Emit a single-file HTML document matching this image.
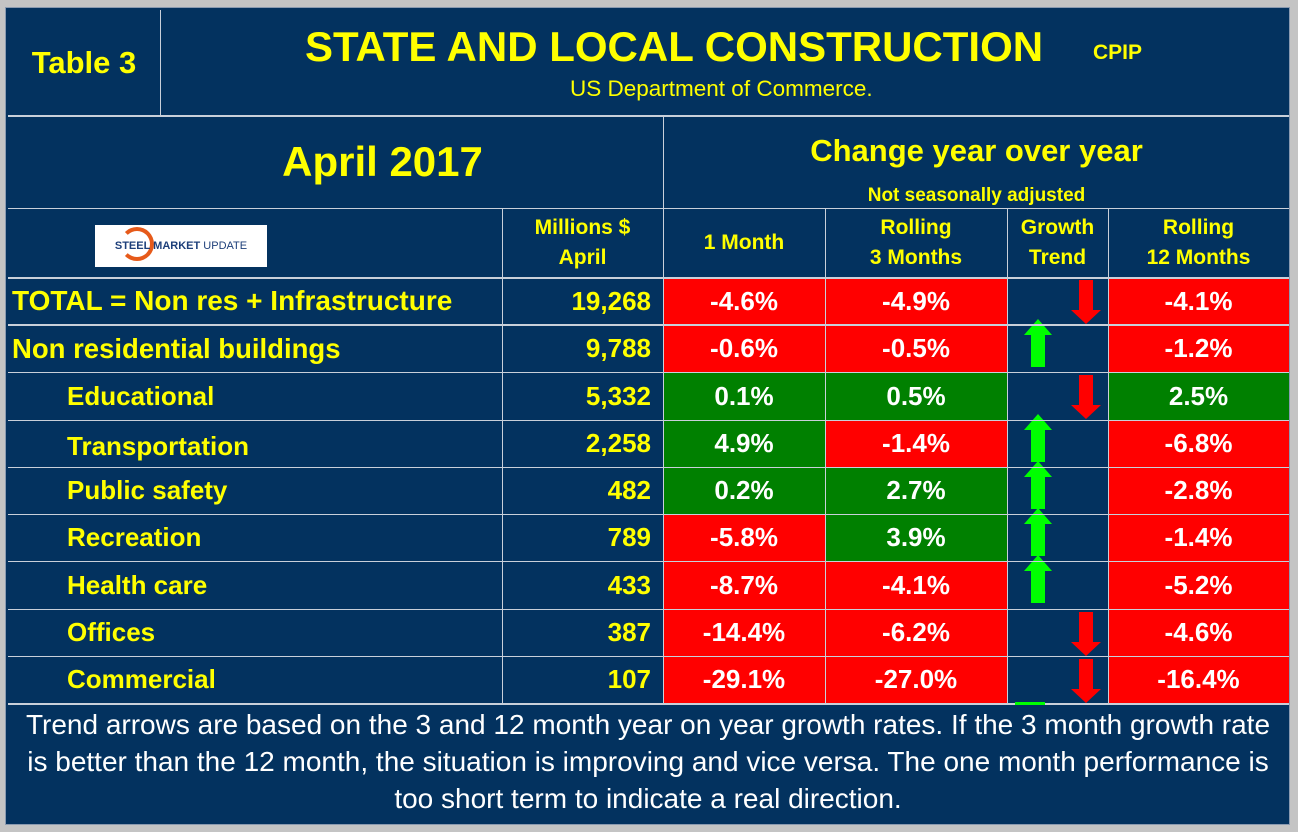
<!DOCTYPE html>
<html><head><meta charset="utf-8">
<style>
body{margin:0;width:1298px;height:832px;background:#c4c4c4;font-family:"Liberation Sans",Arial,sans-serif;overflow:hidden;position:relative}
.p{position:absolute;background:#03325f;left:6px;top:8px;width:1283px;height:816px;outline:1px solid #8a9ab0}
.a{position:absolute;box-sizing:border-box}
.ln{position:absolute;background:#c9d0da}
.y{color:#ffff00;font-weight:bold}
.w{color:#fff;font-weight:bold}
.c{display:flex;align-items:center;justify-content:center;text-align:center}
.fl{display:block;white-space:nowrap;text-align:center}
</style></head><body>
<div class="p"></div>
<div class="a y c" style="left:8px;top:10px;width:152px;height:105px;font-size:31px">Table 3</div>
<div class="a y" style="left:305px;top:23px;font-size:42px;white-space:nowrap">STATE AND LOCAL CONSTRUCTION</div>
<div class="a y" style="left:1093px;top:41px;font-size:21px">CPIP</div>
<div class="a" style="left:570px;top:76px;font-size:22.5px;color:#ffff00">US Department of Commerce.</div>
<div class="a y c" style="left:55px;top:116px;width:655px;height:92px;font-size:42px">April 2017</div>
<div class="a y c" style="left:663px;top:130px;width:627px;height:42px;font-size:31px">Change year over year</div>
<div class="a y c" style="left:663px;top:184px;width:627px;height:24px;font-size:19px">Not seasonally adjusted</div>
<div class="a c" style="left:95px;top:225px;width:172px;height:42px;background:#fff;font-size:11px;font-weight:bold;color:#1d3f7a;white-space:nowrap"><span style="position:absolute;left:25px;top:2px;width:34px;height:34px;border-radius:50%;border:4px solid #e65a1a;border-left-color:transparent;box-sizing:border-box"></span><span style="position:relative">STEEL MARKET <span style="font-weight:normal">UPDATE</span></span></div>
<div id="hdr"></div>
<div id="rows"></div>
<div class="a" style="left:8px;top:705px;width:1280px;height:115px;color:#fff;font-size:28px;line-height:37px;padding-top:1px"><span class="fl">Trend arrows are based on the 3 and 12 month year on year growth rates. If the 3 month growth rate</span><span class="fl">is better than the 12 month, the situation is improving and vice versa. The one month performance is</span><span class="fl">too short term to indicate a real direction.</span></div>
<div class="a" style="left:1015px;top:702px;width:30px;height:3px;background:#00ff00"></div>
<script>
const labels=["TOTAL = Non res + Infrastructure","Non residential buildings","Educational","Transportation","Public safety","Recreation","Health care","Offices","Commercial"];
const indent=[0,0,1,1,1,1,1,1,1];
const millions=["19,268","9,788","5,332","2,258","482","789","433","387","107"];
const m1=[-4.6,-0.6,0.1,4.9,0.2,-5.8,-8.7,-14.4,-29.1];
const m3=[-4.9,-0.5,0.5,-1.4,2.7,3.9,-4.1,-6.2,-27.0];
const m12=[-4.1,-1.2,2.5,-6.8,-2.8,-1.4,-5.2,-4.6,-16.4];
const cols=[8,502,663,825,1007,1108,1289];
const rowTops=[277,325,372,420,467,514,561,609,656,703];
const R=document.getElementById('rows'),H=document.getElementById('hdr');
function div(parent,cls,style,txt){const d=document.createElement('div');d.className=cls;d.style.cssText=style;if(txt!==undefined)d.textContent=txt;parent.appendChild(d);return d;}
const hd=["Millions $\nApril","1 Month","Rolling\n3 Months","Growth\nTrend","Rolling\n12 Months"];
const hn=['millions-header','one-month-header','rolling-3-header','growth-trend-header','rolling-12-header'];
hd.forEach((t,i)=>{const d=div(H,'a y c',`left:${cols[i+1]}px;top:209px;width:${cols[i+2]-cols[i+1]}px;height:68px;font-size:21px;line-height:30px;white-space:pre`,t);

});
function fmt(v){return v.toFixed(1)+'%';}
labels.forEach((lab,i)=>{
 const top=rowTops[i],h=rowTops[i+1]-top;
 let d=div(R,'a y',`left:${indent[i]?67:12}px;top:${top}px;height:${h}px;line-height:${h+(i==3?6:0)}px;font-size:${indent[i]?26:(i==0?28:27.5)}px;white-space:nowrap`,lab);
 
 
 d=div(R,'a y',`left:502px;top:${top}px;width:149px;height:${h}px;line-height:${h}px;font-size:26px;text-align:right`,millions[i]);
 
 
 [[m1,2],[m3,3],[m12,5]].forEach(([arr,c])=>{
  const v=arr[i];
  const e=div(R,'a w c',`left:${cols[c]}px;top:${top}px;width:${cols[c+1]-cols[c]}px;height:${h}px;font-size:26px;background:${v>0?'#008000':'#ff0000'}`,fmt(v));
  
  
 });
 const up=m3[i]>m12[i];
 const s=document.createElementNS('http://www.w3.org/2000/svg','svg');
 s.setAttribute('width','34');s.setAttribute('height','50');
 s.style.cssText=`position:absolute;left:${up?1021:1069}px;top:${up?top-6:top+3}px;overflow:visible`;
 s.innerHTML=up?'<polygon points="17,0 31,16 24,16 24,48 10,48 10,16 3,16" fill="#00ff00"/>':'<polygon points="10,0 24,0 24,30 32,30 17,44 2,30 10,30" fill="#ff0000"/>';
 
 
 R.appendChild(s);
});
const L=[[8,115,1281,2],[160,10,1,105],[663,115,1,162],[8,208,1281,1],[8,277,1281,2],[8,324,1281,2]];
rowTops.slice(2,9).forEach(t=>L.push([8,t,1281,1]));
L.push([8,703,1281,2]);
[502,663,825,1007,1108].forEach(x=>L.push([x,208,1,495]));
L.forEach(([x,y,w,h])=>{const d=div(R,'ln',`left:${x}px;top:${y}px;width:${w}px;height:${h}px`);

});
</script>
</body></html>
